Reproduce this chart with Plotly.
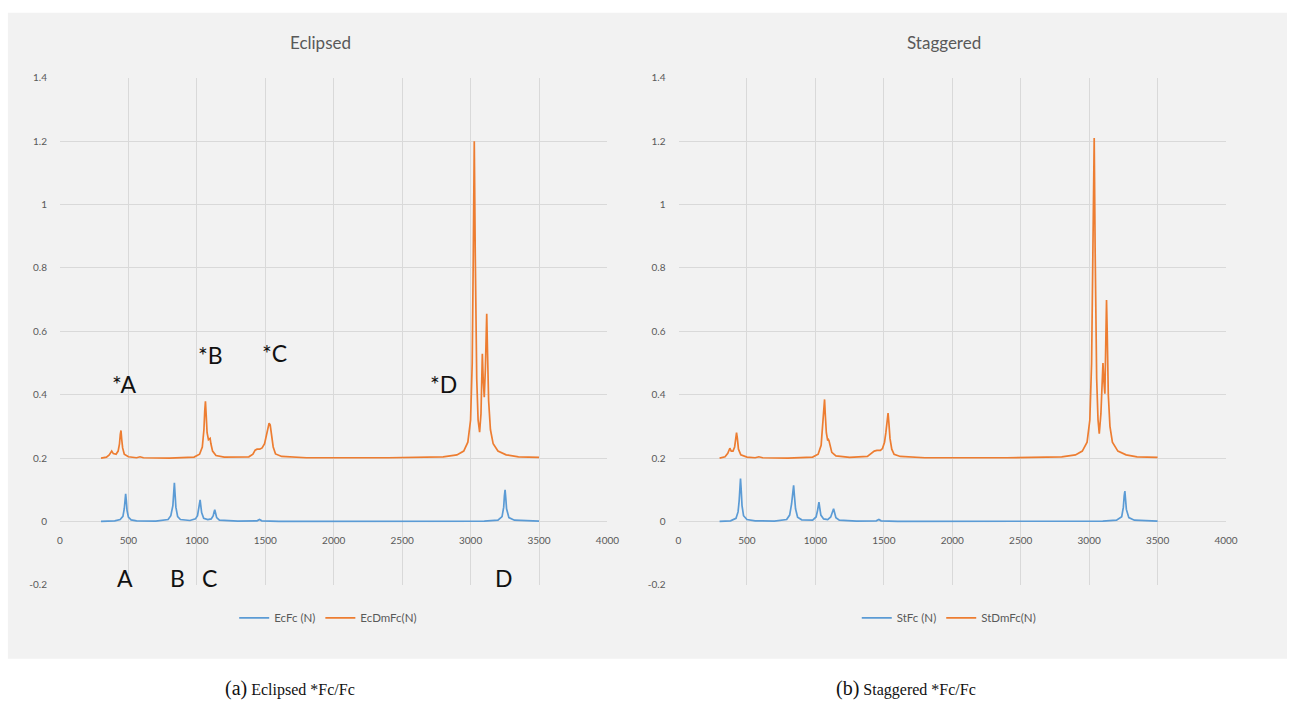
import plotly.graph_objects as go

# ---------------- data ----------------
ec_fc_x = [300, 400, 440, 460, 470, 475, 480, 485, 490, 500, 520, 560, 700, 790, 810, 825, 830, 836, 842, 847,
           860, 880, 950, 990, 1005, 1015, 1019, 1024, 1029, 1035, 1050, 1080, 1105, 1120, 1126, 1131, 1136,
           1145, 1165, 1300, 1440, 1458, 1475, 1600, 3100, 3200, 3230, 3242, 3247, 3252, 3257, 3263, 3280,
           3320, 3500]
ec_fc_y = [0, 0.002, 0.006, 0.016, 0.04, 0.07, 0.087, 0.065, 0.035, 0.014, 0.005, 0.002, 0.001, 0.006, 0.018,
           0.05, 0.085, 0.122, 0.08, 0.045, 0.015, 0.006, 0.003, 0.008, 0.018, 0.04, 0.058, 0.068, 0.05, 0.028,
           0.01, 0.006, 0.008, 0.018, 0.03, 0.037, 0.028, 0.012, 0.004, 0.001, 0.002, 0.006, 0.002, 0.0, 0.001,
           0.004, 0.015, 0.045, 0.08, 0.1, 0.075, 0.04, 0.012, 0.004, 0.001]

ec_dm_x = [300, 340, 360, 370, 378, 390, 410, 425, 435, 441, 446, 451, 458, 470, 500, 560, 585, 610, 800, 980,
           1020, 1040, 1052, 1058, 1063, 1068, 1075, 1085, 1092, 1097, 1103, 1115, 1140, 1200, 1380, 1410, 1426,
           1440, 1460, 1477, 1495, 1510, 1520, 1528, 1536, 1545, 1558, 1575, 1620, 1800, 2400, 2800, 2900, 2950,
           2980, 3000, 3012, 3020, 3027, 3034, 3045, 3055, 3066, 3076, 3082, 3086, 3092, 3100, 3108, 3114, 3118,
           3123, 3132, 3145, 3165, 3200, 3260, 3350, 3500]
ec_dm_y = [0.2, 0.203, 0.21, 0.218, 0.222, 0.214, 0.212, 0.222, 0.245, 0.275, 0.287, 0.26, 0.232, 0.212, 0.204,
           0.201, 0.204, 0.201, 0.2, 0.203, 0.212, 0.235, 0.29, 0.35, 0.379, 0.34, 0.28, 0.258, 0.26, 0.262,
           0.245, 0.222, 0.208, 0.203, 0.204, 0.212, 0.225, 0.228, 0.228, 0.232, 0.245, 0.275, 0.305, 0.31,
           0.305, 0.275, 0.235, 0.213, 0.205, 0.201, 0.201, 0.204, 0.21, 0.222, 0.25, 0.32, 0.5, 0.85, 1.2,
           0.85, 0.45, 0.32, 0.282, 0.34, 0.45, 0.529, 0.45, 0.392, 0.48, 0.6, 0.655, 0.55, 0.38, 0.29, 0.245,
           0.222, 0.21, 0.204, 0.202]

st_fc_x = [300, 380, 420, 435, 443, 448, 453, 458, 464, 475, 500, 560, 700, 790, 812, 826, 834, 841, 847, 855,
           870, 900, 980, 1005, 1016, 1021, 1026, 1031, 1040, 1060, 1090, 1112, 1124, 1133, 1139, 1150, 1175,
           1300, 1445, 1464, 1480, 1600, 3100, 3200, 3238, 3250, 3256, 3261, 3266, 3272, 3290, 3330, 3500]
st_fc_y = [0, 0.002, 0.01, 0.03, 0.065, 0.11, 0.135, 0.1, 0.05, 0.018, 0.006, 0.002, 0.001, 0.006, 0.02, 0.055,
           0.095, 0.114, 0.08, 0.04, 0.013, 0.005, 0.004, 0.014, 0.035, 0.052, 0.061, 0.045, 0.02, 0.008, 0.006,
           0.014, 0.03, 0.04, 0.03, 0.012, 0.004, 0.001, 0.002, 0.006, 0.002, 0, 0.001, 0.004, 0.015, 0.045,
           0.08, 0.096, 0.07, 0.038, 0.012, 0.004, 0.001]

st_dm_x = [300, 340, 360, 370, 375, 385, 398, 410, 418, 424, 430, 438, 455, 500, 560, 587, 615, 800, 980, 1020,
           1042, 1054, 1061, 1067, 1072, 1080, 1090, 1095, 1099, 1106, 1120, 1150, 1250, 1380, 1415, 1430, 1450,
           1475, 1490, 1505, 1515, 1524, 1531, 1537, 1545, 1558, 1575, 1620, 1800, 2400, 2800, 2900, 2950, 2985,
           3005, 3018, 3028, 3037, 3044, 3055, 3065, 3074, 3086, 3094, 3101, 3108, 3115, 3121, 3127, 3132, 3140,
           3152, 3170, 3210, 3270, 3350, 3500]
st_dm_y = [0.2, 0.204, 0.215, 0.226, 0.231, 0.222, 0.222, 0.235, 0.262, 0.28, 0.262, 0.228, 0.21, 0.203, 0.201,
           0.204, 0.201, 0.2, 0.203, 0.212, 0.24, 0.3, 0.36, 0.385, 0.34, 0.28, 0.255, 0.258, 0.255, 0.24, 0.218,
           0.207, 0.202, 0.205, 0.215, 0.222, 0.224, 0.224, 0.23, 0.25, 0.28, 0.32, 0.342, 0.31, 0.262, 0.228,
           0.212, 0.205, 0.201, 0.201, 0.204, 0.21, 0.222, 0.25, 0.32, 0.5, 0.85, 1.21, 0.85, 0.45, 0.32, 0.277,
           0.34, 0.43, 0.5, 0.44, 0.403, 0.55, 0.699, 0.6, 0.4, 0.3, 0.25, 0.222, 0.21, 0.204, 0.202]

y_ticks = [-0.2, 0, 0.2, 0.4, 0.6, 0.8, 1, 1.2, 1.4]
y_tick_text = ["-0.2", "0", "0.2", "0.4", "0.6", "0.8", "1", "1.2", "1.4"]
x_ticks = [0, 500, 1000, 1500, 2000, 2500, 3000, 3500, 4000]

peak_labels_top = ["*A", "*B", "*C", "*D"]
peak_top_x = [468, 1097, 1565, 2800]
peak_top_y = [0.435, 0.524, 0.533, 0.435]
peak_labels_bottom = ["A", "B", "C", "D"]
peak_bottom_x = [475, 856, 1090, 3247]
peak_bottom_y = [-0.177, -0.177, -0.177, -0.177]

# ---------------- style ----------------
W, H = 1293, 706
BLUE = "#5b9bd5"
ORANGE = "#ed7d31"
PANEL = "#f2f2f2"
GRID = "#d9d9d9"
TXT = "#595959"
SANS = "Lato, Roboto, Arial, sans-serif"
SERIF = "Liberation Serif, Times New Roman, serif"

# the photographed page is slightly shrunk and shifted; map wanted pixel -> paper fraction
def px(p):
    return ((p - 3.1) / 0.9875) / W

def py(p):
    return 1 - ((p - 5.2) / 0.983) / H

fig = go.Figure()
fig.add_trace(go.Scatter(x=ec_fc_x, y=ec_fc_y, mode="lines", name="EcFc (N)",
                         line=dict(color=BLUE, width=1.7), xaxis="x", yaxis="y", legend="legend"))
fig.add_trace(go.Scatter(x=ec_dm_x, y=ec_dm_y, mode="lines", name="EcDmFc(N)",
                         line=dict(color=ORANGE, width=1.7), xaxis="x", yaxis="y", legend="legend"))
fig.add_trace(go.Scatter(x=st_fc_x, y=st_fc_y, mode="lines", name="StFc (N)",
                         line=dict(color=BLUE, width=1.7), xaxis="x2", yaxis="y2", legend="legend2"))
fig.add_trace(go.Scatter(x=st_dm_x, y=st_dm_y, mode="lines", name="StDmFc(N)",
                         line=dict(color=ORANGE, width=1.7), xaxis="x2", yaxis="y2", legend="legend2"))

ydom = [py(584), py(77)]
zero_pos = py(520.6)

def xaxis_cfg(dom):
    return dict(domain=dom, range=[0, 4000], tickvals=x_ticks, showgrid=True, gridcolor=GRID, gridwidth=1,
                zeroline=False, showline=False, anchor="free", position=zero_pos,
                ticks="", ticklabelstandoff=12, tickfont=dict(family=SANS, size=10, color=TXT), fixedrange=True)

def yaxis_cfg(anchor):
    return dict(domain=ydom, range=[-0.2, 1.4], tickvals=y_ticks, ticktext=y_tick_text, showgrid=True,
                gridcolor=GRID, gridwidth=1, zeroline=True, zerolinecolor=GRID, zerolinewidth=1,
                showline=False, anchor=anchor, ticks="", ticklabelstandoff=12,
                tickfont=dict(family=SANS, size=10, color=TXT), fixedrange=True)

def ann(text, x, y, xref, yref, font):
    return dict(text=text, x=x, y=y, xref=xref, yref=yref, showarrow=False,
                xanchor="center", yanchor="middle", font=font)

annotations = []
for t, xv, yv in zip(peak_labels_top, peak_top_x, peak_top_y):
    annotations.append(ann(t, xv, yv, "x", "y", dict(family=SANS, size=23, color="#111111")))
for t, xv, yv in zip(peak_labels_bottom, peak_bottom_x, peak_bottom_y):
    annotations.append(ann(t, xv, yv, "x", "y", dict(family=SANS, size=23, color="#111111")))
annotations += [
    ann("Eclipsed", px(320), py(42), "paper", "paper", dict(family=SANS, size=17, color=TXT)),
    ann("Staggered", px(943), py(42), "paper", "paper", dict(family=SANS, size=17, color=TXT)),
    ann("<span style='font-size:20px'>(a)</span> Eclipsed *Fc/Fc", px(290), py(688), "paper", "paper",
        dict(family=SERIF, size=16, color="#111111")),
    ann("<span style='font-size:20px'>(b)</span> Staggered *Fc/Fc", px(905), py(688), "paper", "paper",
        dict(family=SERIF, size=16, color="#111111")),
]

legend_common = dict(orientation="h", xanchor="center", yanchor="middle", y=py(617),
                     bgcolor="rgba(0,0,0,0)", font=dict(family=SANS, size=11.5, color=TXT),
                     itemwidth=30, tracegroupgap=0)

fig.update_layout(
    autosize=True,
    margin=dict(l=0, r=0, t=0, b=0, pad=0),
    paper_bgcolor="white", plot_bgcolor=PANEL,
    xaxis=xaxis_cfg([px(60), px(607)]),
    yaxis=yaxis_cfg("x"),
    xaxis2=xaxis_cfg([px(678), px(1225)]),
    yaxis2=yaxis_cfg("x2"),
    legend=dict(x=px(328), **legend_common),
    legend2=dict(x=px(948), **legend_common),
    showlegend=True,
    annotations=annotations,
    shapes=[dict(type="rect", xref="paper", yref="paper", x0=px(8), x1=px(1286), y0=py(658),
                 y1=py(12), fillcolor=PANEL, line=dict(width=0), layer="below")],
)

post = ("document.documentElement.style.margin='0';document.documentElement.style.overflow='hidden';"
        "document.body.style.margin='0';document.body.style.overflow='hidden';"
        "var gd=document.getElementById('{plot_id}');gd.style.width='100vw';gd.style.height='100vh';"
        "if(gd.parentNode){gd.parentNode.style.width='100vw';gd.parentNode.style.height='100vh';}"
        "Plotly.Plots.resize(gd);")

fig.write_html("out.html", default_width="100vw", default_height="100vh",
               config={"displayModeBar": False, "responsive": True}, post_script=post)
